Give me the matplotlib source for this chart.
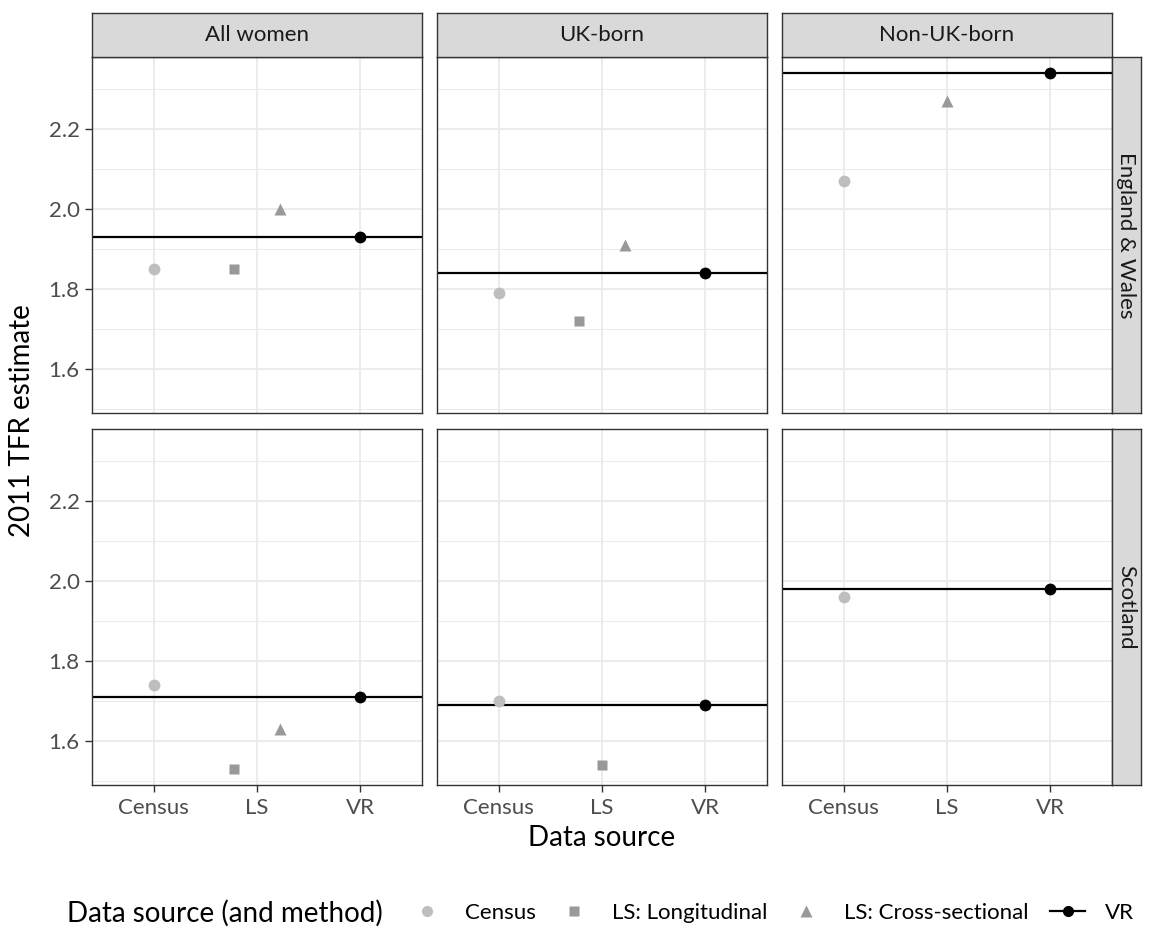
import numpy as np
import matplotlib
matplotlib.use("Agg")
import matplotlib.pyplot as plt
from matplotlib.lines import Line2D

plt.rcParams["font.family"] = ["Lato", "DejaVu Sans"]

# data
regions = ["England & Wales", "Scotland"]
groups = ["All women", "UK-born", "Non-UK-born"]
sources = ["Census", "LS", "VR"]
census = [[1.85, 1.79, 2.07], [1.74, 1.70, 1.96]]
ls_long = [[1.85, 1.72, np.nan], [1.53, 1.54, np.nan]]
ls_cross = [[2.00, 1.91, 2.27], [1.63, np.nan, np.nan]]
vr = [[1.93, 1.84, 2.34], [1.71, 1.69, 1.98]]
y_ticks = [1.6, 1.8, 2.0, 2.2]
y_minor = [1.5, 1.7, 1.9, 2.1, 2.3]

# colours
c_census = "#BEBEBE"
c_ls = "#999999"
c_vr = "black"
c_grid = "#EBEBEB"
c_border = "#333333"
c_strip = "#D9D9D9"
c_tick = "#4D4D4D"

W, H = 1150, 939
fig = plt.figure(figsize=(W / 100, H / 100), dpi=100)


def px(x0, y0, w, h):
    # pixel box (from top-left) to figure fraction
    return [x0 / W, 1 - (y0 + h) / H, w / W, h / H]


allv = np.array([census, ls_long, ls_cross, vr], dtype=float)
lo, hi = np.nanmin(allv), np.nanmax(allv)
pad = (hi - lo) * 0.05
ylim = (lo - pad, hi + pad)

col_x = [92, 437, 782]
row_y = [57, 429]
pw, ph = 330, 356

for r in range(2):
    for g in range(3):
        ax = fig.add_axes(px(col_x[g], row_y[r], pw, ph))
        ax.set_xlim(0.4, 3.6)
        ax.set_ylim(*ylim)
        ax.set_yticks(y_ticks)
        ax.set_yticks(y_minor, minor=True)
        ax.set_xticks([1, 2, 3])
        ax.grid(True, which="major", color=c_grid, lw=1.3, zorder=0)
        ax.grid(True, which="minor", axis="y", color=c_grid, lw=0.7, zorder=0)
        ax.set_axisbelow(True)
        for s in ax.spines.values():
            s.set_color(c_border)
            s.set_linewidth(1.0)
            s.set_zorder(5)

        has_long = not np.isnan(ls_long[r][g])
        has_cross = not np.isnan(ls_cross[r][g])
        dodge = 0.225 if (has_long and has_cross) else 0.0

        ax.axhline(vr[r][g], color=c_vr, lw=1.6, zorder=3)
        ax.plot([1], [census[r][g]], "o", color=c_census, ms=8.5, mec="none", zorder=4)
        if has_long:
            ax.plot([2 - dodge], [ls_long[r][g]], "s", color=c_ls, ms=7.5, mec="none", zorder=4)
        if has_cross:
            ax.plot([2 + dodge], [ls_cross[r][g]], "^", color=c_ls, ms=8.5, mec="none", zorder=4)
        ax.plot([3], [vr[r][g]], "o", color=c_vr, ms=8.5, mec="none", zorder=4)

        ax.tick_params(which="major", length=5, width=1.0, color=c_border,
                       labelsize=16, labelcolor=c_tick, pad=4)
        ax.tick_params(which="minor", length=0)
        if g == 0:
            ax.set_yticklabels([f"{t:.1f}" for t in y_ticks])
        else:
            ax.tick_params(axis="y", which="major", length=0, labelleft=False)
        if r == 1:
            ax.set_xticklabels(sources)
        else:
            ax.tick_params(axis="x", which="major", length=0, labelbottom=False)

        # column strip
        if r == 0:
            sax = fig.add_axes(px(col_x[g], 13, pw, 44))
            sax.set_xticks([]); sax.set_yticks([])
            sax.set_facecolor(c_strip)
            for s in sax.spines.values():
                s.set_color(c_border); s.set_linewidth(1.0)
            sax.text(0.5, 0.5, groups[g], ha="center", va="center",
                     fontsize=16, color="#1A1A1A", transform=sax.transAxes)

    # row strip
    rax = fig.add_axes(px(1112, row_y[r], 29, ph))
    rax.set_xticks([]); rax.set_yticks([])
    rax.set_facecolor(c_strip)
    for s in rax.spines.values():
        s.set_color(c_border); s.set_linewidth(1.0)
    rax.text(0.5, 0.5, regions[r], ha="center", va="center", rotation=-90,
             fontsize=16, color="#1A1A1A", transform=rax.transAxes)

fig.text(22 / W, 1 - 421 / H, "2011 TFR estimate", rotation=90, ha="center",
         va="center", fontsize=20)
fig.text(602 / W, 1 - 838 / H, "Data source", ha="center", va="center", fontsize=20)

# legend
fig.text(67 / W, 1 - 913 / H, "Data source (and method)", ha="left", va="center",
         fontsize=20)
handles = [
    Line2D([], [], ls="none", marker="o", color=c_census, ms=8, mec="none"),
    Line2D([], [], ls="none", marker="s", color=c_ls, ms=7, mec="none"),
    Line2D([], [], ls="none", marker="^", color=c_ls, ms=8, mec="none"),
    Line2D([], [], ls="-", lw=1.6, marker="o", color=c_vr, ms=8, mec="none"),
]
labels = ["Census", "LS: Longitudinal", "LS: Cross-sectional", "VR"]
fig.legend(handles, labels, loc="center left", bbox_to_anchor=(398 / W, 1 - 913 / H),
           ncol=4, frameon=False, fontsize=16, handlelength=1.6, handletextpad=0.9,
           columnspacing=0.95, borderpad=0)

fig.savefig("out.png", dpi=100)
